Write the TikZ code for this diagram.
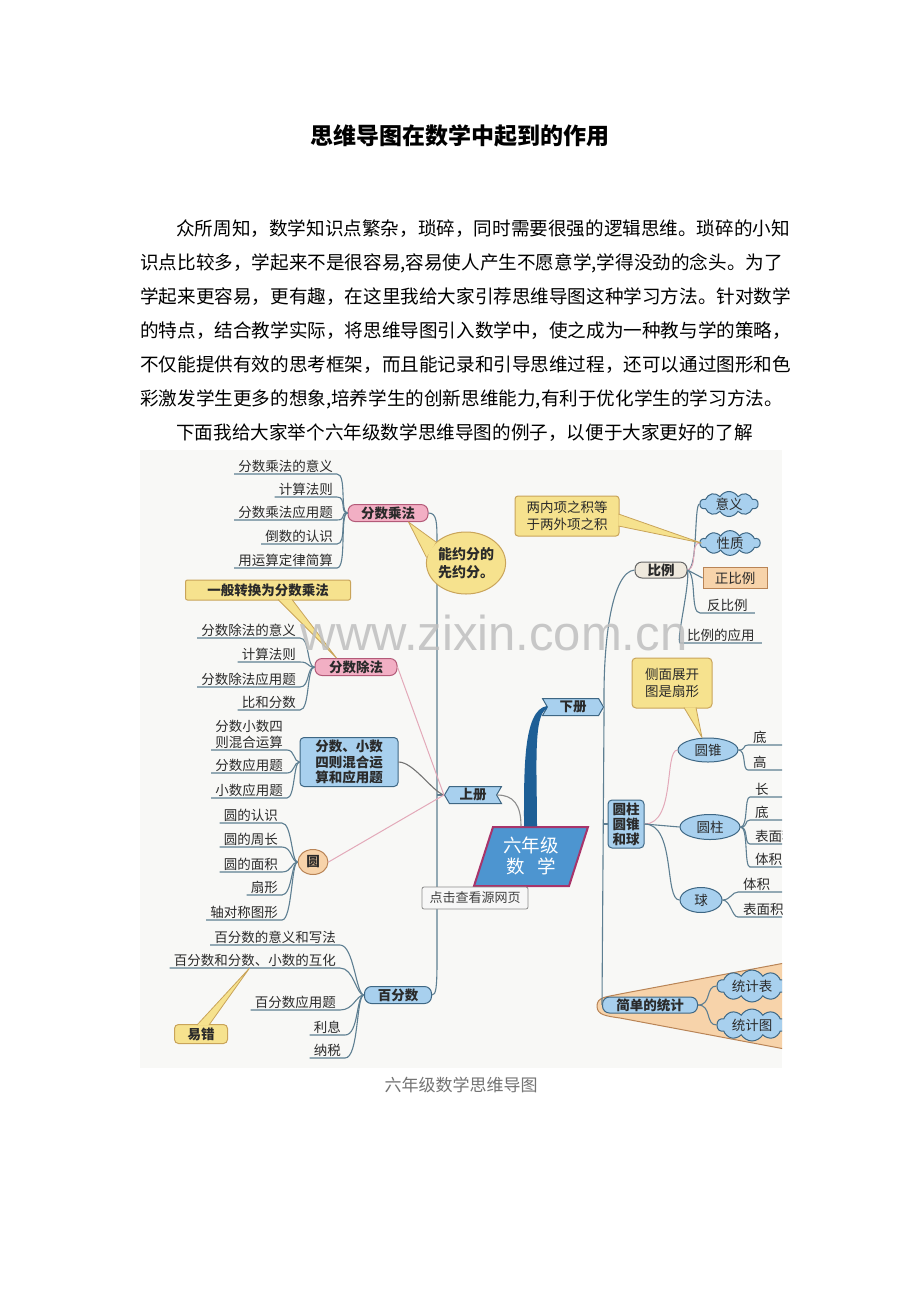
\documentclass[tikz,border=0pt]{standalone}
\usepackage{fontspec}
\setmainfont{Noto Sans CJK SC}
\newfontfamily\wmfont{Liberation Sans}
\usetikzlibrary{shapes.geometric,shapes.symbols}
\definecolor{lnc}{HTML}{5E7F92}
\definecolor{lnp}{HTML}{E3A9B9}
\definecolor{txt}{HTML}{2A2A2A}
\definecolor{nbl}{HTML}{A8D0EE}
\definecolor{nbd}{HTML}{3E6784}
\definecolor{npk}{HTML}{F2AFC4}
\definecolor{npd}{HTML}{B35A78}
\definecolor{ylw}{HTML}{F6E28E}
\definecolor{ylwd}{HTML}{C9A45A}
\definecolor{pch}{HTML}{F7D3AA}
\definecolor{pchd}{HTML}{B98456}
\definecolor{cfill}{HTML}{4D95D0}
\definecolor{cbord}{HTML}{A8346A}
\definecolor{tblu}{HTML}{1E5F96}
\definecolor{bge}{HTML}{EFE9DD}
\definecolor{mapbg}{HTML}{F8F8F6}
\newcommand\fsz[2]{\fontsize{#1}{#2}\selectfont}
\newcommand\calloutptr[3]{\fill[ylw] (#1) -- (#2) -- (#3) -- cycle; \draw[ylwd, line width=0.8pt, line join=round] (#1) -- (#2) -- (#3);}
\tikzset{
 conn/.style={draw=lnc, line width=1.1pt},
 pconn/.style={draw=lnp, line width=1pt},
 leaf/.style={font=\fsz{13.5}{15.5}, text=txt, inner xsep=4pt, inner ysep=1.5pt, anchor=south east},
 rleaf/.style={font=\fsz{13.5}{15.5}, text=txt, inner xsep=5pt, inner ysep=1.5pt, anchor=south west, text width=40pt, align=left},
 pill/.style={rounded corners=7pt, line width=1pt, font=\fsz{13.5}{15}\bfseries, text=txt, inner ysep=1pt, minimum height=17pt},
 pinkpill/.style={pill, fill=npk, draw=npd},
 bluepill/.style={pill, fill=nbl, draw=nbd},
 bluebox/.style={rounded corners=4pt, fill=nbl, draw=nbd, line width=1pt, font=\fsz{13.5}{15.5}\bfseries, text=txt, align=center},
 bubble/.style={ellipse, fill=nbl, draw=nbd, line width=1pt, font=\fsz{13.5}{15}, text=txt, inner sep=1pt},
 callout/.style={fill=ylw, draw=ylwd, line width=1pt, rounded corners=4pt, font=\fsz{13.5}{17}, text=txt, align=center},
 puff/.style={cloud, cloud puffs=10, cloud puff arc=120, aspect=2.6, fill=nbl, draw=nbd, line width=1pt, font=\fsz{13.5}{15}, text=txt, inner sep=0pt},
 tag/.style={signal, signal pointer angle=120, fill=nbl, draw=nbd, line width=1pt, font=\fsz{13.5}{15}\bfseries, text=txt, inner ysep=1pt, minimum height=17pt},
 bodyline/.style={anchor=west, font=\fsz{18.6}{20}, text=black, inner sep=0pt},
}
\begin{document}
\begin{tikzpicture}[x=1pt,y=-1pt]
\useasboundingbox (0,0) rectangle (920,1302);
\fill[white] (0,0) rectangle (920,1302);

\node[font=\fsz{23}{26}\bfseries, text=black] (title) at (460,136) {思维导图在数学中起到的作用};

\node[bodyline] (p1) at (176,229) {众所周知，数学知识点繁杂，琐碎，同时需要很强的逻辑思维。琐碎的小知};
\node[bodyline] (p2) at (140,263) {识点比较多，学起来不是很容易,容易使人产生不愿意学,学得没劲的念头。为了};
\node[bodyline] (p3) at (140,297) {学起来更容易，更有趣，在这里我给大家引荐思维导图这种学习方法。针对数学};
\node[bodyline] (p4) at (140,331) {的特点，结合教学实际，将思维导图引入数学中，使之成为一种教与学的策略，};
\node[bodyline] (p5) at (140,365) {不仅能提供有效的思考框架，而且能记录和引导思维过程，还可以通过图形和色};
\node[bodyline] (p6) at (140,399) {彩激发学生更多的想象,培养学生的创新思维能力,有利于优化学生的学习方法。};
\node[bodyline] (p7) at (176,433) {下面我给大家举个六年级数学思维导图的例子，以便于大家更好的了解};

\begin{scope}
\clip (140,450) rectangle (782,1068);
\fill[mapbg] (140,450) rectangle (782,1068);

% balloon behind statistics
\draw[fill=pch, draw=pchd, line width=1pt] (597,1006) .. controls (597,997) and (606,997) .. (620,994) -- (790,962) -- (790,1050) -- (620,1018) .. controls (606,1016) and (597,1015) .. (597,1006) -- cycle;

% centre
\draw[fill=cfill, draw=cbord, line width=2pt] (493,827) -- (588,827) -- (569,886) -- (474,886) -- cycle;
\node[font=\fsz{18.5}{21}, text=white, align=center, minimum width=80pt, minimum height=59pt, inner sep=0pt] (ctr) at (531,856) {六年级\\数\hspace{0.7em}学};

% left: fraction multiplication
\node[pinkpill, minimum width=80pt] (fscf) at (388,513) {分数乘法};
\node[leaf] (a1) at (337,474) {分数乘法的意义};
\node[leaf] (a2) at (337,497) {计算法则};
\node[leaf] (a3) at (337,520) {分数乘法应用题};
\node[leaf] (a4) at (337,544) {倒数的认识};
\node[leaf] (a5) at (337,568) {用运算定律简算};

% fraction division
\node[pinkpill, minimum width=82pt] (fscc) at (356,667) {分数除法};
\node[leaf] (b1) at (300,638) {分数除法的意义};
\node[leaf] (b2) at (300,662) {计算法则};
\node[leaf] (b3) at (300,687) {分数除法应用题};
\node[leaf] (b4) at (300,710) {比和分数};

% mixed operations
\node[bluebox, minimum width=98pt, minimum height=49pt, inner sep=2pt] (fxs) at (349,762) {分数、小数\\四则混合运\\算和应用题};
\node[leaf, align=left] (c1) at (287,750) {分数小数四\\则混合运算};
\node[leaf] (c2) at (287,773) {分数应用题};
\node[leaf] (c3) at (287,798) {小数应用题};

% circle
\node[ellipse, fill=pch, draw=pchd, line width=1pt, minimum width=30pt, minimum height=25pt, inner sep=0pt, font=\fsz{13.5}{15}\bfseries, text=txt] (yuan) at (313,862) {圆};
\node[leaf] (d1) at (282,823) {圆的认识};
\node[leaf] (d2) at (282,847) {圆的周长};
\node[leaf] (d3) at (282,872) {圆的面积};
\node[leaf] (d4) at (282,895) {扇形};
\node[leaf] (d5) at (282,920) {轴对称图形};

% percent
\node[bluepill, minimum width=67pt] (bfs) at (398,995) {百分数};
\node[leaf] (e1) at (340,945) {百分数的意义和写法};
\node[leaf] (e2) at (340,968) {百分数和分数、小数的互化};
\node[leaf] (e3) at (340,1010) {百分数应用题};
\node[leaf] (e4) at (345,1035) {利息};
\node[leaf] (e5) at (345,1058) {纳税};

% volume tags
\node[tag, signal to=west, signal from=east, minimum width=57pt] (sc) at (473,795) {上册};
\node[tag, signal to=east, signal from=west, minimum width=61pt] (xc) at (573,707) {下册};

% right: ratio
\node[pill, fill=bge, draw=black!60, minimum width=52pt, minimum height=16pt] (bl) at (661,570) {比例};
\node[puff, minimum width=58pt, minimum height=24pt] (yy) at (729,504) {意义};
\node[puff, minimum width=60pt, minimum height=24pt] (xz) at (730,543) {性质};
\node[fill=pch, draw=pchd, line width=1pt, minimum width=64pt, minimum height=21pt, inner sep=1pt, font=\fsz{13.5}{15}, text=txt] (zbl) at (735,578) {正比例};
\node[leaf, anchor=south west, inner xsep=7pt] (fbl) at (700,613) {反比例};
\node[leaf, anchor=south west, inner xsep=7pt] (blyy) at (680,643) {比例的应用};

% solids
\node[bluebox, minimum width=36pt, minimum height=48pt, inner sep=1pt, font=\fsz{13.5}{15}\bfseries] (ys) at (626,824) {圆柱\\圆锥\\和球};
\node[bubble, minimum width=60pt, minimum height=24pt] (yz) at (708,750) {圆锥};
\node[bubble, minimum width=60pt, minimum height=25pt] (yzh) at (710,827) {圆柱};
\node[bubble, minimum width=42pt, minimum height=25pt] (qiu) at (701,900) {球};
\node[rleaf] (g1) at (748,745) {底};
\node[rleaf] (g2) at (748,770) {高};
\node[rleaf] (h1) at (750,797) {长};
\node[rleaf] (h2) at (750,820) {底};
\node[rleaf] (h3) at (750,844) {表面积};
\node[rleaf] (h4) at (750,867) {体积};
\node[rleaf] (q1) at (738,892) {体积};
\node[rleaf] (q2) at (738,917) {表面积};

% statistics
\node[bluepill, minimum width=95pt, minimum height=16pt] (jd) at (650,1005) {简单的统计};
\node[puff, minimum width=70pt, minimum height=32pt] (tb) at (752,986) {统计表};
\node[puff, minimum width=70pt, minimum height=32pt] (tt) at (752,1025) {统计图};

% ---- connectors ----
\foreach \n in {a1,a2,a3,a4,a5} \draw[conn] (\n.south west) -- (\n.south east) .. controls +(10,0) and +(-8,0) .. (fscf.west);
\foreach \n in {b1,b2,b3,b4} \draw[conn] (\n.south west) -- (\n.south east) .. controls +(10,0) and +(-8,0) .. (fscc.west);
\foreach \n in {c1,c2,c3} \draw[conn] (\n.south west) -- (\n.south east) .. controls +(8,0) and +(-6,0) .. (fxs.west);
\foreach \n in {d1,d2,d3,d4,d5} \draw[conn] (\n.south west) -- (\n.south east) .. controls +(10,0) and +(-6,0) .. (yuan.west);
\foreach \n in {e1,e2,e3,e4,e5} \draw[conn] (\n.south west) -- (\n.south east) .. controls +(14,0) and +(-8,0) .. (bfs.west);

\coordinate (lt) at (437,795);
\draw[conn] (fscf.east) .. controls (437,513) and (437,522) .. (437,545) -- (437,960) .. controls (437,988) and (436,995) .. (bfs.east);
\draw[conn] (lt) -- (sc.west);
\draw[conn, draw=black!55] (fxs.east) .. controls +(15,0) and +(-12,-4) .. (sc.west);
\draw[pconn] (fscc.east) -- (sc.west);
\draw[pconn] (yuan.east) -- (sc.west);
\draw[conn, draw=black!45] (sc.east) .. controls +(16,0) and +(0,-22) .. ([xshift=-10pt]ctr.north);
\fill[tblu] ([xshift=-7pt]ctr.north) .. controls (524,770) and (523,710) .. ([yshift=1pt]xc.west) -- ([yshift=-2pt]xc.west) .. controls (533,714) and (537,770) .. ([xshift=6pt]ctr.north) -- cycle;

\draw[conn] (bl.west) .. controls (612,572) and (603,640) .. (xc.east) -- (jd.west);
\coordinate (rt) at (603,824);
\draw[conn] (rt) -- (ys.west);

\draw[conn] (bl.east) .. controls (698,570) and (694,504) .. (yy.west);
\draw[pconn] (bl.east) .. controls (698,568) and (690,543) .. (xz.west);
\draw[conn] (bl.east) -- (zbl.west);
\draw[conn] (bl.east) .. controls (697,575) and (690,613) .. (fbl.south west) -- (fbl.south east);
\draw[conn] (bl.east) .. controls (690,585) and (676,640) .. (blyy.south west) -- (blyy.south east);

\draw[pconn] (ys.east) .. controls (676,824) and (664,750) .. (yz.west);
\draw[conn] (ys.east) -- (yzh.west);
\draw[conn] (ys.east) .. controls (676,824) and (664,900) .. (qiu.west);
\foreach \n in {g1,g2} \draw[conn] (yz.east) .. controls +(8,0) and +(-6,0) .. (\n.south west) -- (\n.south east);
\foreach \n in {h1,h2,h3,h4} \draw[conn] (yzh.east) .. controls +(8,0) and +(-6,0) .. (\n.south west) -- (\n.south east);
\foreach \n in {q1,q2} \draw[conn] (qiu.east) .. controls +(8,0) and +(-6,0) .. (\n.south west) -- (\n.south east);

\draw[conn] (jd.east) .. controls (712,1005) and (705,986) .. (tb.west);
\draw[conn] (jd.east) .. controls (712,1005) and (705,1025) .. (tt.west);

% ---- callouts ----
\node[callout, ellipse, sharp corners, minimum width=72pt, minimum height=62pt, inner sep=0pt, font=\fsz{14}{18}\bfseries] (nyf) at (466,563) {能约分的\\先约分。};
\calloutptr{nyf.145}{[xshift=-20pt]fscf.south east}{nyf.172}
\node[callout, rounded corners=2pt, minimum width=165pt, minimum height=20pt, inner sep=1pt, font=\fsz{13.5}{15}\bfseries] (yb1) at (268,590) {一般转换为分数乘法};
\calloutptr{[xshift=10pt,yshift=1pt]yb1.south}{[xshift=22pt]fscc.north west}{[xshift=24pt,yshift=1pt]yb1.south}
\node[callout, minimum width=53pt, minimum height=19pt, inner sep=1pt, font=\fsz{13.5}{15}\bfseries] (yc) at (201,1034) {易错};
\calloutptr{[xshift=-4pt,yshift=-1pt]yc.north}{[xshift=80pt]e2.south west}{[xshift=8pt,yshift=-1pt]yc.north}
\node[callout, rounded corners=3pt, minimum width=104pt, minimum height=40pt, inner sep=2pt] (lx) at (567,516) {两内项之积等\\于两外项之积};
\calloutptr{[xshift=-1pt,yshift=2pt]lx.east}{[xshift=2pt]xz.west}{[xshift=-1pt,yshift=-10pt]lx.east}
\node[callout, minimum width=80pt, minimum height=50pt] (cm) at (672,683) {侧面展开\\图是扇形};
\calloutptr{[xshift=12pt,yshift=1pt]cm.south}{[xshift=-6pt]yz.north}{[xshift=24pt,yshift=1pt]cm.south}

\node[draw=black!45, fill=black!3, rounded corners=2pt, line width=0.8pt, minimum width=106pt, minimum height=22pt, inner sep=1pt, font=\fsz{13}{15}, text=black!75] (dj) at (475,898) {点击查看源网页};

\node[font=\wmfont\fsz{49}{54}, text=black!25, text opacity=0.85, inner sep=0pt] (wm) at (494,633) {www.zixin.com.cn};
\end{scope}

\node[font=\fsz{17}{19}, text=black!55] (cap) at (461,1085) {六年级数学思维导图};
\end{tikzpicture}
\end{document}
